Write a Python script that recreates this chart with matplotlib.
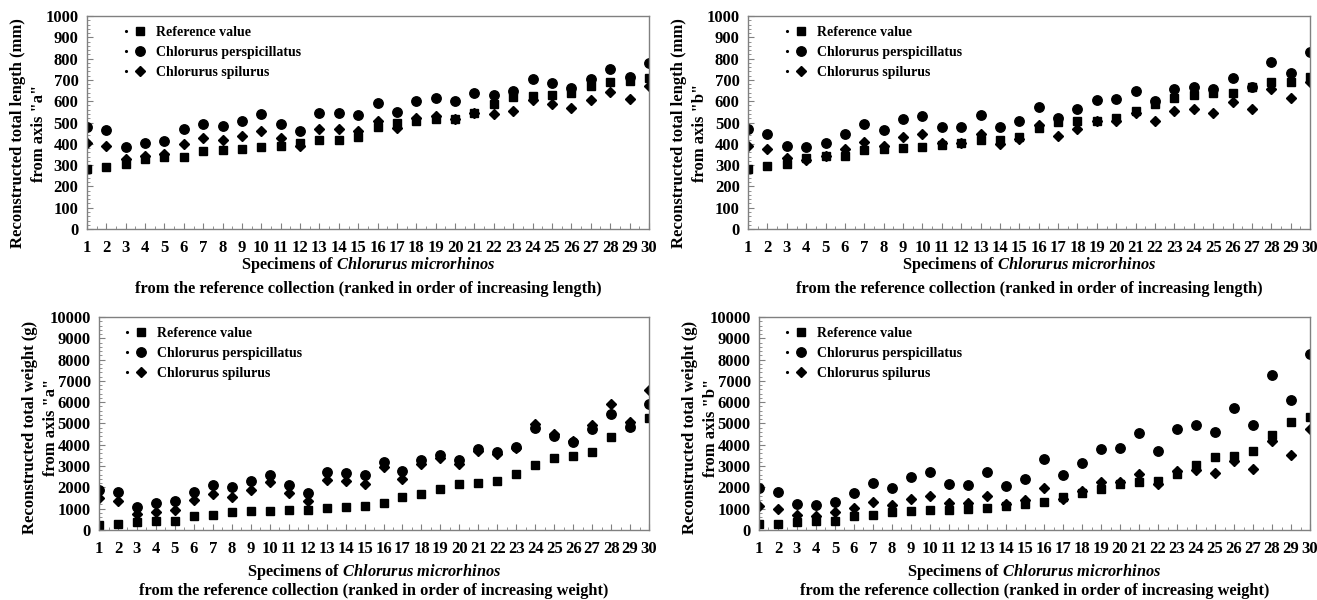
import matplotlib
matplotlib.use('Agg')
import matplotlib.pyplot as plt
from matplotlib.lines import Line2D
from matplotlib.legend_handler import HandlerTuple
from matplotlib.ticker import MultipleLocator

plt.rcParams['font.family'] = ['Liberation Serif', 'DejaVu Serif']
plt.rcParams['font.weight'] = 'bold'
plt.rcParams['mathtext.fontset'] = 'custom'
plt.rcParams['mathtext.rm'] = 'Liberation Serif:bold'
plt.rcParams['mathtext.it'] = 'Liberation Serif:italic:bold'
plt.rcParams['mathtext.bf'] = 'Liberation Serif:bold'

specimens = list(range(1, 31))
series_names = ['Reference value', 'Chlorurus perspicillatus', 'Chlorurus spilurus']

# total length (mm), axis "a"
len_a_ref = [281, 290, 306, 331, 337, 340, 366, 372, 378, 383, 392, 403, 417, 419, 431,
             477, 497, 509, 518, 516, 547, 586, 619, 625, 631, 638, 673, 692, 697, 711]
len_a_persp = [477, 466, 384, 403, 412, 469, 495, 484, 508, 539, 495, 462, 547, 544, 533,
               591, 550, 602, 617, 602, 638, 628, 650, 705, 686, 664, 705, 750, 716, 781]
len_a_spil = [406, 392, 328, 345, 353, 398, 425, 416, 436, 459, 425, 391, 470, 469, 460,
              508, 473, 520, 531, 517, 544, 539, 552, 606, 586, 567, 608, 644, 611, 672]

# total length (mm), axis "b"
len_b_ref = [283, 294, 306, 334, 341, 342, 369, 377, 380, 384, 394, 403, 417, 419, 430,
             475, 502, 508, 506, 520, 555, 589, 614, 631, 638, 638, 669, 692, 692, 714]
len_b_persp = [469, 448, 389, 386, 406, 448, 491, 467, 516, 530, 480, 480, 533, 478, 508,
               575, 522, 563, 605, 609, 650, 602, 658, 669, 656, 711, 669, 786, 733, 830]
len_b_spil = [391, 377, 334, 325, 345, 378, 409, 392, 431, 448, 403, 406, 445, 400, 422,
              487, 439, 470, 509, 509, 544, 505, 556, 564, 545, 597, 564, 659, 613, 692]

# total weight (g), axis "a"
wt_a_ref = [250, 300, 390, 430, 440, 640, 700, 840, 900, 910, 950, 960, 1030, 1070, 1110,
            1290, 1540, 1680, 1920, 2140, 2220, 2290, 2630, 3050, 3380, 3470, 3680, 4380, 4900, 5260]
wt_a_persp = [1900, 1780, 1100, 1270, 1340, 1800, 2110, 2000, 2290, 2600, 2110, 1740, 2710, 2670, 2560,
              3190, 2750, 3280, 3540, 3280, 3800, 3650, 3900, 4780, 4400, 4140, 4730, 5440, 4830, 5900]
wt_a_spil = [1490, 1360, 770, 860, 950, 1400, 1700, 1570, 1860, 2260, 1740, 1370, 2330, 2280, 2170,
             2950, 2400, 3080, 3370, 3080, 3730, 3550, 3870, 4970, 4520, 4190, 4920, 5910, 5080, 6580]

# total weight (g), axis "b"
wt_b_ref = [260, 300, 390, 430, 440, 640, 700, 850, 900, 930, 950, 980, 1040, 1110, 1210,
            1320, 1570, 1730, 1910, 2150, 2240, 2320, 2630, 3060, 3430, 3480, 3730, 4440, 5060, 5310]
wt_b_persp = [1950, 1770, 1220, 1170, 1330, 1740, 2200, 1950, 2480, 2700, 2170, 2110, 2730, 2070, 2400,
              3350, 2570, 3150, 3820, 3870, 4530, 3730, 4750, 4950, 4610, 5710, 4910, 7290, 6110, 8260]
wt_b_spil = [1130, 1000, 720, 670, 830, 1010, 1310, 1160, 1450, 1580, 1280, 1260, 1590, 1220, 1410,
             1960, 1470, 1850, 2240, 2270, 2650, 2150, 2770, 2820, 2670, 3250, 2850, 4170, 3510, 4720]

panels = [
    dict(pos=[0.066, 0.6183, 0.4267, 0.355], data=(len_a_ref, len_a_persp, len_a_spil),
         ylabel='Reconstructed total length (mm)\nfrom axis "a"', ymax=1000, major=100, minor=20,
         what='length', leg_x=0.045, ly=0.45, lpad=-1),
    dict(pos=[0.568, 0.6183, 0.4267, 0.355], data=(len_b_ref, len_b_persp, len_b_spil),
         ylabel='Reconstructed total length (mm)\nfrom axis "b"', ymax=1000, major=100, minor=20,
         what='length', leg_x=0.045, ly=0.45, lpad=-1),
    dict(pos=[0.0752, 0.1167, 0.4176, 0.355], data=(wt_a_ref, wt_a_persp, wt_a_spil),
         ylabel='Reconstructed total weight (g)\nfrom axis "a"', ymax=10000, major=1000, minor=200,
         what='weight', leg_x=0.025, ly=0.48, lpad=-7),
    dict(pos=[0.5763, 0.1167, 0.4184, 0.355], data=(wt_b_ref, wt_b_persp, wt_b_spil),
         ylabel='Reconstructed total weight (g)\nfrom axis "b"', ymax=10000, major=1000, minor=200,
         what='weight', leg_x=0.025, ly=0.48, lpad=-7),
]

markers = [('s', 5.5), ('o', 6.8), ('D', 5.0)]
edge = '#808080'

fig = plt.figure(figsize=(13.17, 6.0), dpi=100)

for i, p in enumerate(panels):
    ax = fig.add_axes(p['pos'])
    handles = []
    for vals, (m, ms), name in zip(p['data'], markers, series_names):
        ax.plot(specimens, vals, linestyle='none', marker=m, markersize=ms,
                color='black', label=name)
        dot = Line2D([], [], linestyle='none', marker='.', markersize=2.5, color='black')
        big = Line2D([], [], linestyle='none', marker=m, markersize=ms, color='black')
        handles.append((dot, big))
    ax.set_xlim(1, 30)
    ax.set_ylim(0, p['ymax'])
    ax.set_xticks(specimens)
    ax.xaxis.set_minor_locator(MultipleLocator(0.5))
    ax.yaxis.set_major_locator(MultipleLocator(p['major']))
    ax.yaxis.set_minor_locator(MultipleLocator(p['minor']))
    ax.tick_params(axis='both', which='both', direction='in', color=edge)
    ax.tick_params(axis='both', which='major', length=4, labelsize=12)
    ax.tick_params(axis='both', which='minor', length=2.5)
    ax.tick_params(axis='x', which='major', pad=8)
    ax.tick_params(axis='y', which='major', pad=6)
    for s in ax.spines.values():
        s.set_color(edge)
        s.set_linewidth(1.0)
    for lab in ax.get_xticklabels() + ax.get_yticklabels():
        lab.set_fontweight('bold')
    ax.set_ylabel(p['ylabel'], fontsize=12, fontweight='bold', linespacing=1.4,
                  labelpad=p['lpad'], y=p['ly'])

    leg = ax.legend(handles, series_names, loc='upper left', bbox_to_anchor=(p['leg_x'], 1.0),
                    frameon=False, fontsize=10, handlelength=1.6, handletextpad=0.85,
                    labelspacing=0.5, borderaxespad=0.3,
                    handler_map={tuple: HandlerTuple(ndivide=None, pad=0.4)})
    for t in leg.get_texts():
        t.set_fontweight('bold')

    cx = p['pos'][0] + p['pos'][2] / 2
    if i < 2:
        y1, y2 = 1 - 265 / 600, 1 - 289 / 600
    else:
        y1, y2 = 1 - 572 / 600, 1 - 591 / 600
    fig.text(cx, y1, r'Specimens of $\mathit{Chlorurus\ microrhinos}$', ha='center', va='center',
             fontsize=11.8, fontweight='bold')
    fig.text(cx, y2, 'from the reference collection (ranked in order of increasing %s)' % p['what'],
             ha='center', va='center', fontsize=11.8, fontweight='bold')

fig.savefig('out.png', dpi=100, facecolor='white')
